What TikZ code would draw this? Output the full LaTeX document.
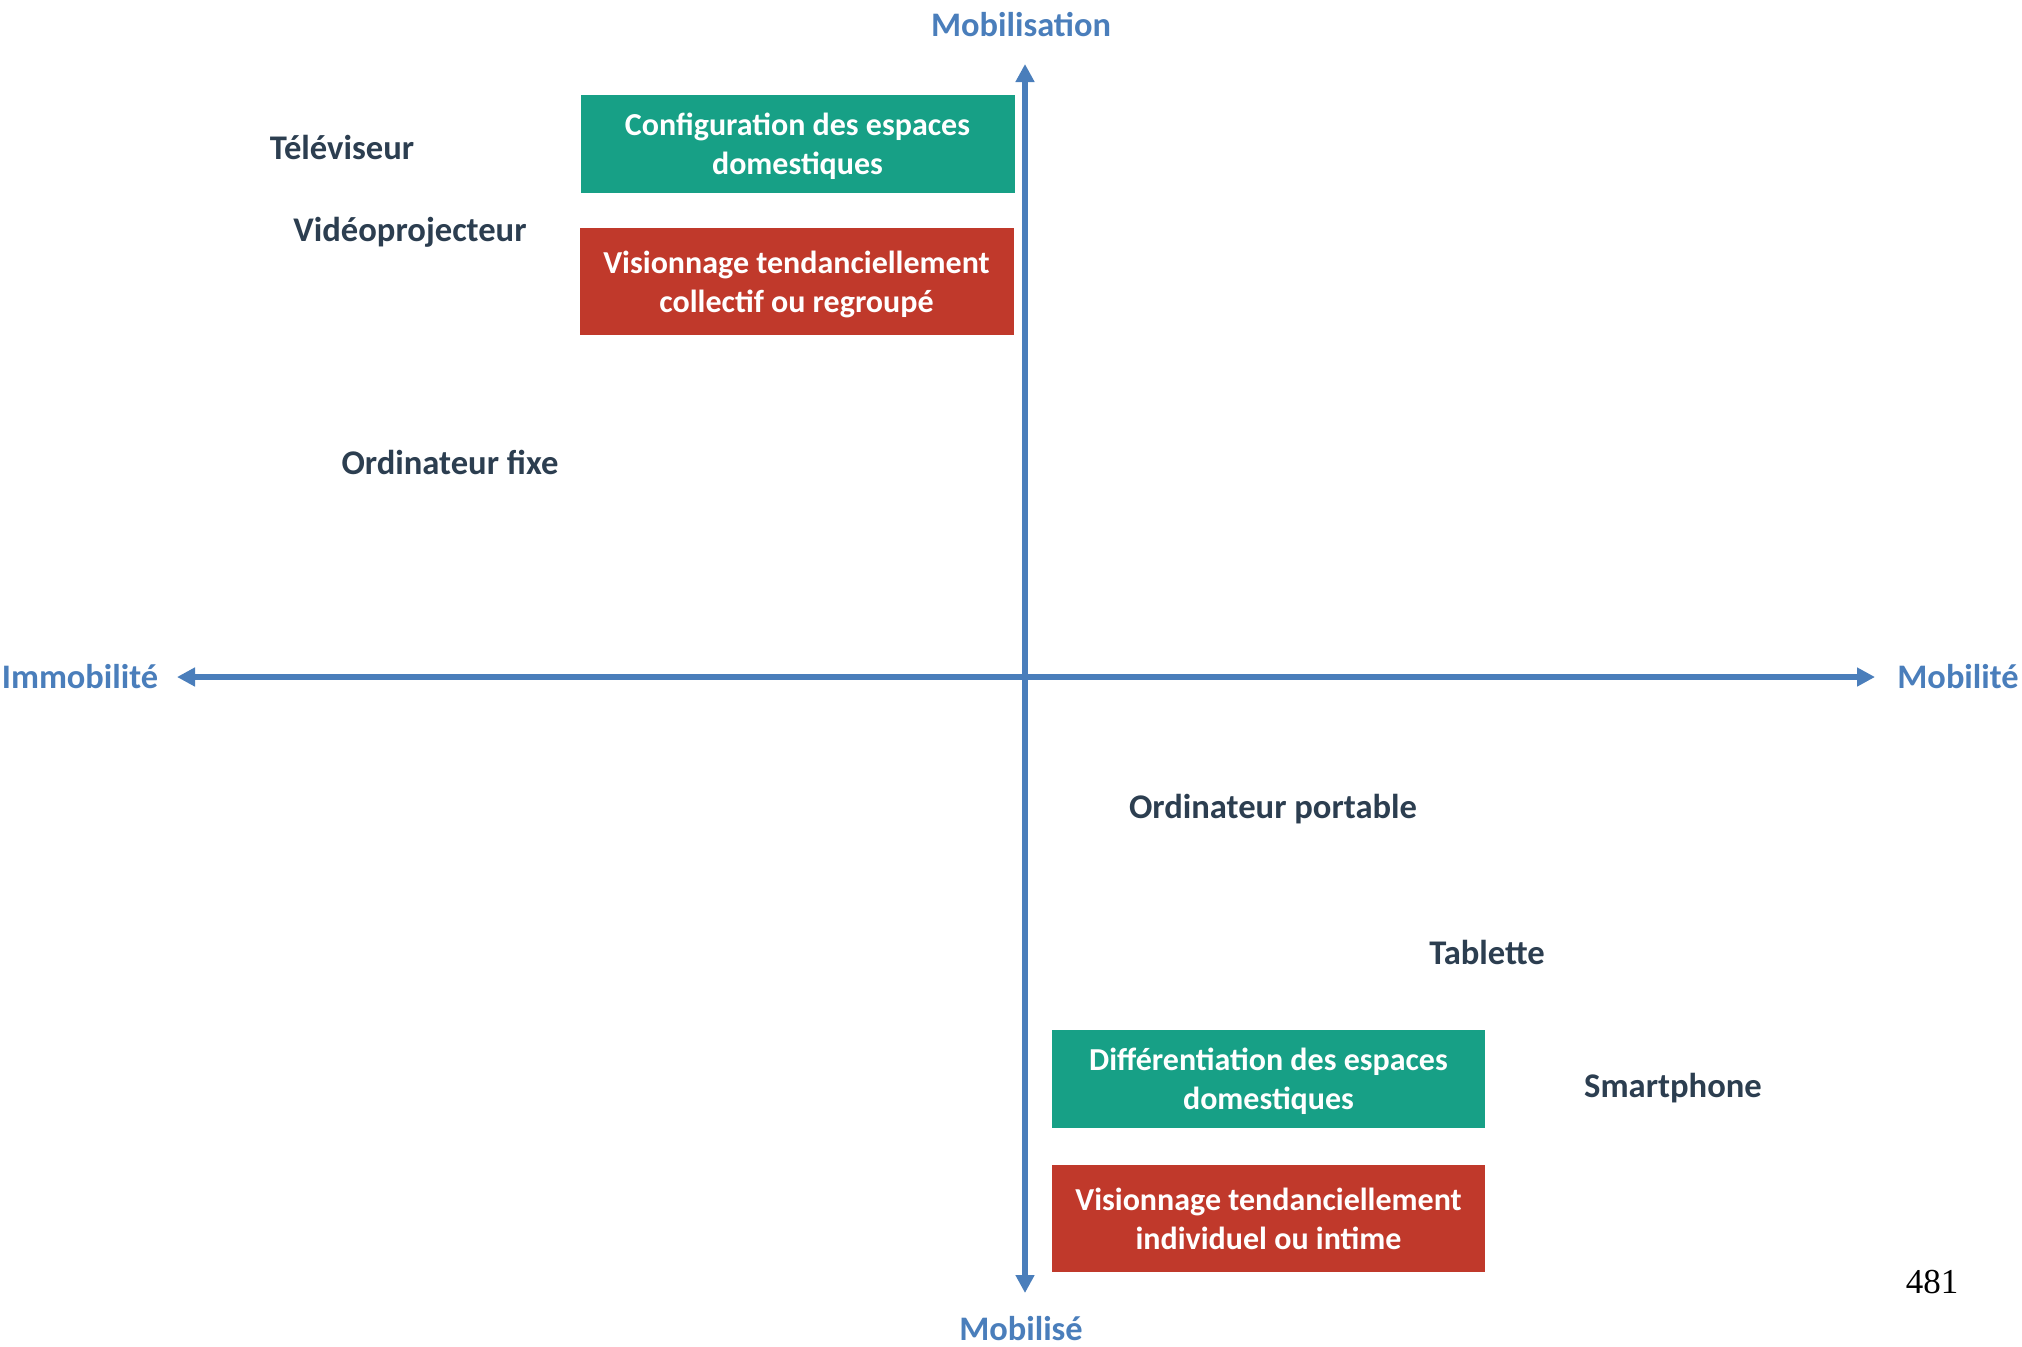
\documentclass[tikz,border=0pt]{standalone}
\usepackage{fontspec}
\setmainfont{Carlito}
\newfontfamily\pagefont{Liberation Serif}
\usepackage{xcolor}
\usetikzlibrary{arrows.meta}
\definecolor{axeblue}{HTML}{4A7EBB}
\definecolor{boxgreen}{HTML}{17A086}
\definecolor{boxred}{HTML}{C0392B}
\definecolor{textnavy}{HTML}{2C3E50}

\begin{document}
\begin{tikzpicture}[x=0.5pt,y=-0.5pt,
    axe/.style={line width=3pt,axeblue,{Triangle[length=9pt,width=9pt]}-{Triangle[length=9pt,width=9pt]}},
    pole/.style={font=\fontsize{17.2}{20}\selectfont\bfseries,text=axeblue,inner sep=0pt},
    appareil/.style={font=\fontsize{17.3}{20}\selectfont\bfseries,text=textnavy,inner sep=0pt},
    boite/.style={font=\fontsize{16}{19.5}\selectfont\bfseries,text=white,align=center,inner sep=0pt,
      text depth=0pt,minimum width=217pt,minimum height=49pt},
  ]
      \useasboundingbox (0,0) rectangle (2022,1346);
      % axes
      \coordinate (haut) at (1025,64);
      \coordinate (bas) at (1025,1293);
      \coordinate (gauche) at (177,677);
      \coordinate (droite) at (1875,677);
      \draw[axe] (gauche) -- (droite);
      \draw[axe] (bas) -- (haut);
      \node[pole] (mobilisation) at (1021,25) {Mobilisation};
      \node[pole] (mobilise) at (1021,1329) {Mobilisé};
      \node[pole] (immobilite) at (80,677) {Immobilité};
      \node[pole] (mobilite) at (1958,677) {Mobilité};
      % boites
      \node[boite,fill=boxgreen] (configuration) at (797.5,143.5) {Configuration des espaces\\domestiques};
      \node[boite,fill=boxred,minimum height=53.5pt] (collectif) at (796.5,281.5) {Visionnage tendanciellement\\collectif ou regroupé};
      \node[boite,fill=boxgreen,minimum width=216.5pt] (differentiation) at (1268.5,1079) {Différentiation des espaces\\domestiques};
      \node[boite,fill=boxred,minimum width=216.5pt,minimum height=53.5pt] (individuel) at (1268.5,1218.5) {Visionnage tendanciellement\\individuel ou intime};
      % appareils
      \node[appareil] (televiseur) at (342,147) {Téléviseur};
      \node[appareil] (videoprojecteur) at (410,232) {Vidéoprojecteur};
      \node[appareil] (fixe) at (450,462) {Ordinateur fixe};
      \node[appareil] (portable) at (1273,809) {Ordinateur portable};
      \node[appareil] (tablette) at (1487,952) {Tablette};
      \node[appareil] (smartphone) at (1673,1088) {Smartphone};
      \node[font=\pagefont\fontsize{17.5}{20}\selectfont,inner sep=0pt] (page) at (1932,1282) {481};
\end{tikzpicture}
\end{document}
